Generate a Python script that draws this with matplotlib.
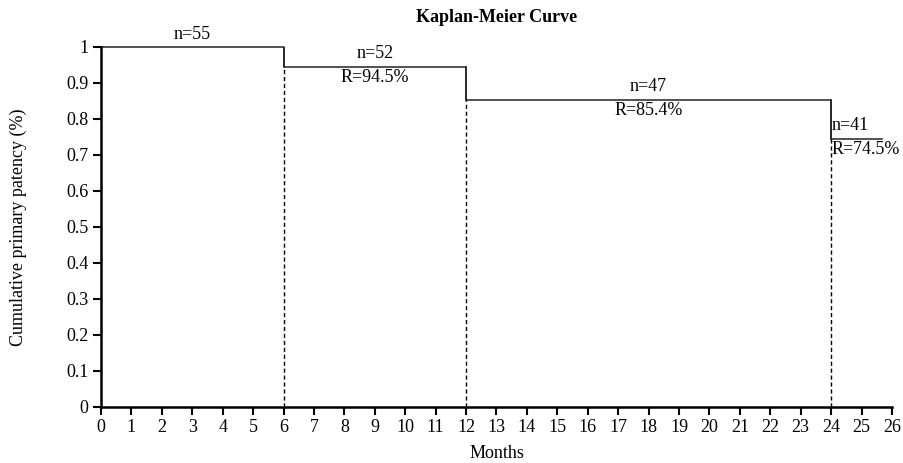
import numpy as np
import matplotlib
matplotlib.use("Agg")
import matplotlib.pyplot as plt

plt.rcParams['font.family'] = ['Liberation Serif', 'DejaVu Serif']

# survival steps
months = [0, 6, 12, 24, 25.67]
survival = [1.0, 0.945, 0.854, 0.745]
at_risk = [55, 52, 47, 41]
rates = [None, "94.5%", "85.4%", "74.5%"]

fig = plt.figure(figsize=(9.04, 4.63), dpi=100)
ax = fig.add_axes([0.1117, 0.121, 0.875, 0.7775])

# step curve
xs, ys = [], []
for i, s in enumerate(survival):
    xs += [months[i], months[i + 1]]
    ys += [s, s]
ax.plot(xs, ys, color='#222222', lw=1.1, clip_on=False)

# drops at the event times, dashed guide lines down to the axis
for i in range(1, len(survival)):
    ax.plot([months[i], months[i]], [survival[i], survival[i - 1]],
            color='#222222', lw=1.1)
    ax.plot([months[i], months[i]], [0, survival[i]],
            color='black', lw=1.0, ls=(0, (3, 2)))

# labels
for i, s in enumerate(survival):
    if i < len(survival) - 1:
        xm = (months[i] + months[i + 1]) / 2
        ha = 'center'
    else:
        xm = months[i] + 0.02
        ha = 'left'
    ax.text(xm, s + 0.012, f"n={at_risk[i]}", ha=ha, va='bottom', fontsize=13)
    if rates[i]:
        ax.text(xm, s - 0.006, f"R={rates[i]}", ha=ha, va='top', fontsize=13)

ax.set_xlim(0, 26)
ax.set_ylim(0, 1)
ax.set_xticks(np.arange(0, 27, 1))
ax.set_yticks(np.arange(0, 1.01, 0.1))
ax.set_yticklabels(['0', '0.1', '0.2', '0.3', '0.4', '0.5', '0.6', '0.7', '0.8', '0.9', '1'])

for sp in ['top', 'right']:
    ax.spines[sp].set_visible(False)
for sp in ['left', 'bottom']:
    ax.spines[sp].set_linewidth(1.8)
ax.tick_params(axis='both', direction='out', length=6, width=1.5, labelsize=13, pad=3)

ax.set_title("Kaplan-Meier Curve", fontsize=13, fontweight='bold', pad=18)
ax.set_xlabel("Months", fontsize=13, labelpad=6)
ax.set_ylabel("Cumulative primary patency (%)", fontsize=13, labelpad=28)

fig.savefig("out.png", dpi=100)
